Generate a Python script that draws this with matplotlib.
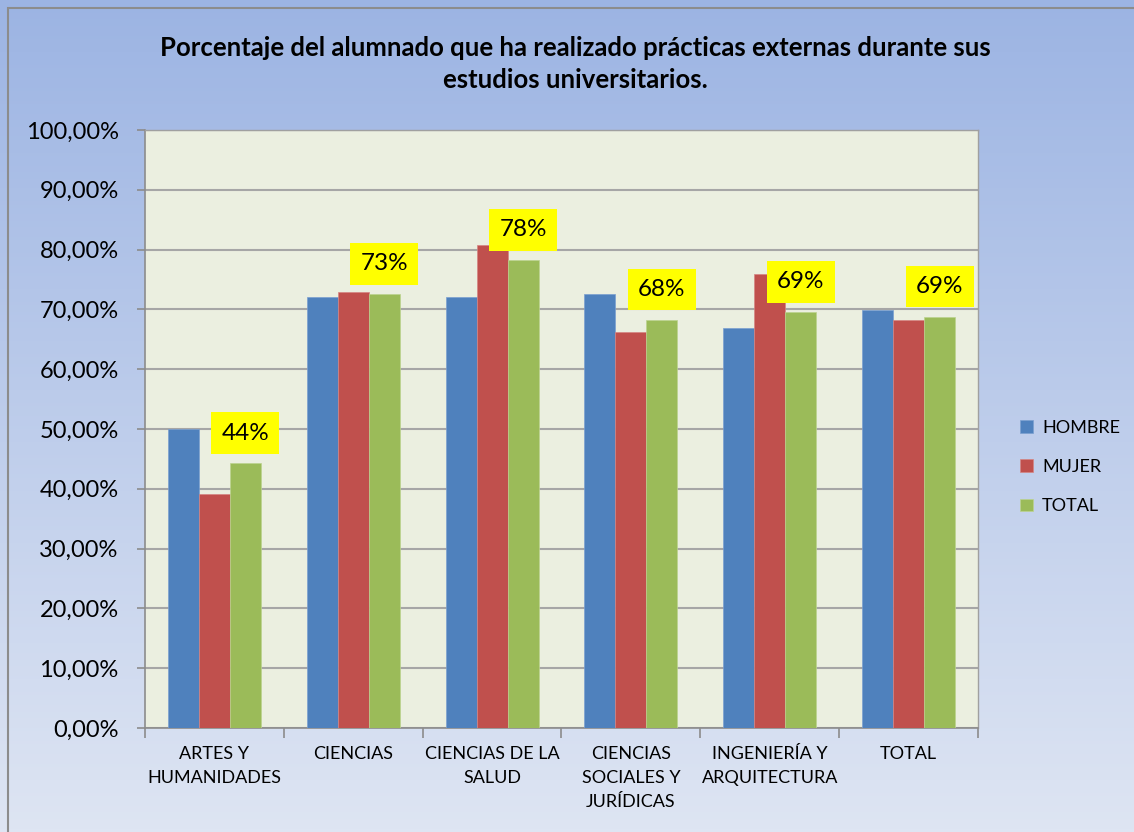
import matplotlib
matplotlib.use('Agg')
import matplotlib.pyplot as plt
import numpy as np
from matplotlib.patches import Rectangle

categories = ['ARTES Y\nHUMANIDADES', 'CIENCIAS', 'CIENCIAS DE LA\nSALUD',
              'CIENCIAS\nSOCIALES Y\nJURÍDICAS', 'INGENIERÍA Y\nARQUITECTURA', 'TOTAL']
hombre = [50.0, 72.1, 72.1, 72.6, 66.9, 69.9]
mujer = [39.1, 72.9, 80.8, 66.2, 75.9, 68.2]
total = [44.3, 72.6, 78.3, 68.3, 69.6, 68.8]
total_labels = ['44%', '73%', '78%', '68%', '69%', '69%']

plt.rcParams['font.family'] = ['Lato', 'DejaVu Sans']

fig = plt.figure(figsize=(11.34, 8.32), dpi=100)

# gradient background
bg = fig.add_axes((0, 0, 1, 1), zorder=-10)
grad = np.linspace(0, 1, 256).reshape(-1, 1)
top = np.array([0x9c, 0xb4, 0xe3]) / 255
bot = np.array([0xde, 0xe5, 0xf3]) / 255
img = top + (bot - top) * grad[..., None]
bg.imshow(img, aspect='auto', extent=(0, 1, 0, 1), origin='upper')
bg.add_patch(Rectangle((8 / 1134, -0.01), 1.1, (832 - 8) / 832 + 0.01,
                       fill=False, edgecolor='#8c8c8c', lw=1.5, transform=bg.transAxes))
bg.set_xlim(0, 1)
bg.set_ylim(0, 1)
bg.axis('off')

ax = fig.add_axes((145 / 1134, 1 - 728 / 832, (978 - 145) / 1134, (728 - 130) / 832))
ax.set_facecolor('#ebefe0')

x = np.arange(len(categories))
w = 0.223
ax.bar(x - w, hombre, w, color='#4f81bd', edgecolor='#7a9fd0', lw=0.5, label='HOMBRE', zorder=3)
ax.bar(x, mujer, w, color='#c0504d', edgecolor='#d58583', lw=0.5, label='MUJER', zorder=3)
ax.bar(x + w, total, w, color='#9bbb59', edgecolor='#bcd38f', lw=0.5, label='TOTAL', zorder=3)

for xi, v, lab in zip(x, total, total_labels):
    ax.annotate(lab, (xi + w, v), xytext=(0, 14), textcoords='offset points',
                ha='center', va='bottom', fontsize=17.5, zorder=5,
                bbox=dict(boxstyle='square,pad=0.42', fc='#ffff00', ec='none'))

ax.set_xlim(-0.5, len(categories) - 0.5)
ax.set_ylim(0, 100)
ax.set_yticks(np.arange(0, 101, 10))
ax.set_yticklabels(['{:.2f}%'.format(v).replace('.', ',') for v in np.arange(0, 101, 10)],
                   fontsize=17)
ax.yaxis.grid(True, color='#a6a6a6', lw=1.5, zorder=0)
ax.set_axisbelow(True)

ax.set_xticks(x)
ax.set_xticklabels(categories, fontsize=13, linespacing=1.62, va='top')
ax.set_xticks(np.arange(-0.5, len(categories), 1), minor=True)
ax.tick_params(axis='x', which='major', length=0, pad=13)
ax.tick_params(axis='x', which='minor', length=7, color='#8c8c8c', width=1.2)
ax.tick_params(axis='y', length=6, color='#8c8c8c', width=1.2, pad=13)

for side in ['top', 'right']:
    ax.spines[side].set_color('#a0a0a0')
    ax.spines[side].set_linewidth(1)
for side in ['left', 'bottom']:
    ax.spines[side].set_color('#8c8c8c')
    ax.spines[side].set_linewidth(1.2)

fig.legend(loc='center left', bbox_to_anchor=(1004 / 1134, 1 - 467 / 832), frameon=False,
           fontsize=13, handlelength=0.7, handleheight=0.7, handletextpad=0.5,
           labelspacing=1.3)

fig.text(575 / 1134, 1 - 64 / 832,
         'Porcentaje del alumnado que ha realizado prácticas externas durante sus\nestudios universitarios.',
         ha='center', va='center', fontsize=18.5, fontweight='bold', linespacing=1.4)

fig.savefig('out.png', dpi=100)
